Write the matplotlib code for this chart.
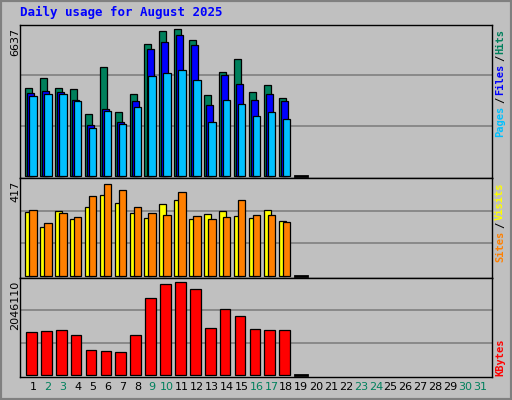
import matplotlib
matplotlib.use("Agg")
import matplotlib.pyplot as plt
from matplotlib.patches import Rectangle

days = list(range(1, 32))
hits = [3853, 4292, 3853, 3809, 2710, 4776, 2798, 3589, 5787, 6358, 6446, 5963, 3545, 4556, 5128, 3677, 3985, 3413]
files = [3633, 3736, 3677, 3326, 2227, 2930, 2359, 3296, 5567, 5875, 6182, 5743, 3106, 4424, 4029, 3326, 3589, 3282]
pages = [3501, 3589, 3589, 3282, 2095, 2842, 2271, 3018, 4380, 4512, 4644, 4205, 2359, 3326, 3150, 2622, 2798, 2491]
visits = [271, 207, 275, 241, 292, 343, 309, 267, 245, 305, 322, 241, 262, 275, 254, 245, 279, 233]
sites = [279, 224, 267, 250, 339, 390, 364, 292, 267, 258, 356, 254, 241, 250, 322, 258, 258, 228]
kbytes = [898000, 920000, 941000, 834000, 535000, 513000, 492000, 834000, 1625000, 1925000,
          1953000, 1818000, 984000, 1390000, 1240000, 962000, 941000, 941000]
max_hits, max_visits, max_kb = 6637, 417, 2046110
weekend = [2, 3, 9, 10, 16, 17, 23, 24, 30, 31]

BG = "#C0C0C0"
fig = plt.figure(figsize=(5.12, 4.0), dpi=100, facecolor=BG)
W, H = 512, 400
# outer border
fig.patches.append(Rectangle((0, 0), 1, 1, transform=fig.transFigure, fill=False, ec="#808080", lw=3))

def panel(top, bottom):
    ax = fig.add_axes([20 / W, 1 - bottom / H, 472 / W, (bottom - top) / H])
    ax.set_facecolor(BG)
    ax.set_xlim(0.128, 31.8)
    ax.set_xticks([])
    ax.set_yticks([])
    for s in ax.spines.values():
        s.set_color("black")
        s.set_linewidth(1)
    return ax

def bars(ax, vals, off, w, color):
    x = [d + off for d in days[:len(vals)]]
    ax.bar(x, vals, width=w, align="edge", color=color, edgecolor="black", linewidth=0.9, zorder=3)

def grid(ax, m):
    for f in (1 / 3, 2 / 3):
        ax.axhline(m * f, color="#808080", lw=1.2, zorder=1)

ax1 = panel(25, 178)
ax1.set_ylim(-max_hits * 0.012, max_hits * 1.0)
grid(ax1, max_hits)
bars(ax1, hits, -0.52, 0.47, "#00805C")
bars(ax1, files, -0.38, 0.47, "#0000FF")
bars(ax1, pages, -0.25, 0.5, "#00C0FF")
ax1.plot([19 - 0.4, 19 + 0.4], [0, 0], color="black", lw=2, zorder=4)

ax2 = panel(178, 278)
ax2.set_ylim(-max_visits * 0.02, max_visits * 1.0)
grid(ax2, max_visits)
bars(ax2, visits, -0.52, 0.47, "#FFFF00")
bars(ax2, sites, -0.25, 0.5, "#FF8000")
ax2.plot([19 - 0.4, 19 + 0.4], [0, 0], color="black", lw=2, zorder=4)

ax3 = panel(278, 377)
ax3.set_ylim(-max_kb * 0.02, max_kb * 1.0)
grid(ax3, max_kb)
bars(ax3, kbytes, -0.47, 0.72, "#FF0000")
ax3.plot([19 - 0.4, 19 + 0.4], [0, 0], color="black", lw=2, zorder=4)

# day labels
for d in days:
    ax3.text(d, -0.1, str(d), transform=ax3.get_xaxis_transform(), ha="center", va="center",
             fontsize=8, color="#00805C" if d in weekend else "black")

fig.text(20 / W, 1 - 12 / H, "Daily usage for August 2025", color="#0000FF", fontsize=9,
         fontweight="bold", family="DejaVu Sans Mono", va="center", ha="left")

for txt, y in (("6637", 28), ("417", 181), ("2046110", 281)):
    fig.text(15 / W, 1 - y / H, txt, rotation=90, ha="center", va="top", fontsize=8)

def right_labels(parts, ybottom):
    y = ybottom
    for t, c in parts:
        tx = fig.text(500 / W, 1 - y / H, t, rotation=90, ha="center", va="bottom", fontsize=7.5,
                      color=c, family="DejaVu Sans Mono", fontweight="bold")
        y -= len(t) * 6.6 + 1

right_labels([("Pages", "#00C0FF"), ("/", "black"), ("Files", "#0000FF"), ("/", "black"), ("Hits", "#00805C")], 137)
right_labels([("Sites", "#FF8000"), ("/", "black"), ("Visits", "#FFFF00")], 262)
right_labels([("KBytes", "#FF0000")], 376)

fig.savefig("out.png", dpi=100, facecolor=BG)
